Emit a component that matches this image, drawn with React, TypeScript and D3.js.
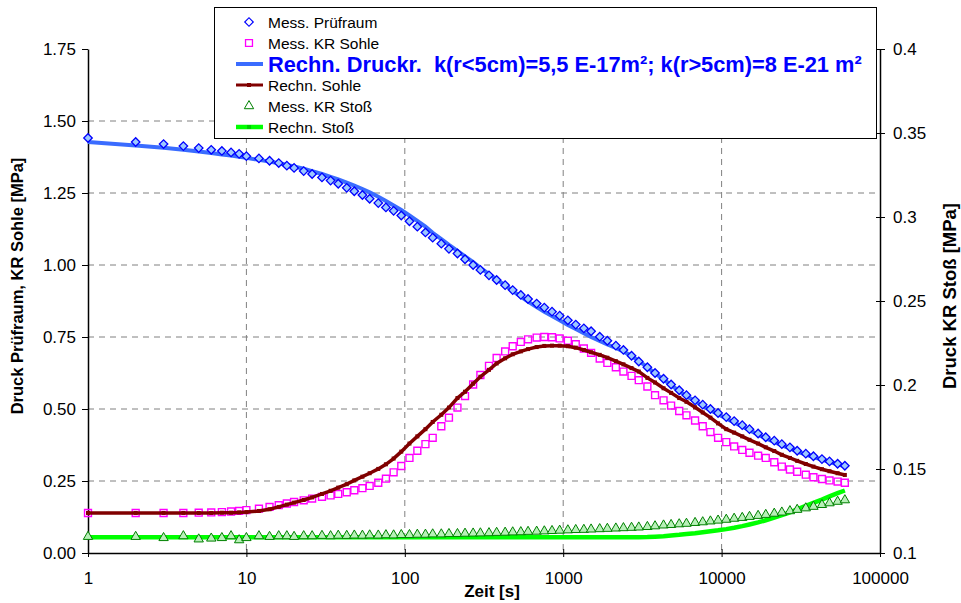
import { useRef, useEffect } from 'react';
import * as d3 from 'd3';

// sample times [s], shared by all series
const times = [
  1, 2, 3, 4, 5, 6, 7, 8, 9, 10,
  12, 14, 16, 18, 20,
  23, 26, 30, 34, 38,
  43, 48, 54, 60, 68,
  76, 85, 95, 107, 120,
  135, 150, 170, 190, 215,
  240, 270, 300, 340, 380,
  430, 480, 540, 600, 680,
  760, 850, 950, 1070, 1200,
  1350, 1500, 1700, 1900, 2150,
  2400, 2700, 3000, 3400, 3800,
  4300, 4800, 5400, 6000, 6800,
  7600, 8500, 9500, 10700, 12000,
  13500, 15000, 17000, 19000, 21500,
  24000, 27000, 30000, 34000, 38000,
  43000, 48000, 54000, 60000,
];

const messPruefraum = [
  1.441, 1.427, 1.420, 1.413, 1.406, 1.400, 1.396, 1.391, 1.386, 1.378,
  1.370, 1.362, 1.354, 1.345, 1.337,
  1.326, 1.316, 1.304, 1.293, 1.282,
  1.268, 1.256, 1.243, 1.230, 1.215,
  1.200, 1.188, 1.172, 1.152, 1.133,
  1.113, 1.095, 1.074, 1.056, 1.040,
  1.020, 1.000, 0.983, 0.964, 0.948,
  0.930, 0.913, 0.896, 0.882, 0.866,
  0.852, 0.838, 0.824, 0.808, 0.793,
  0.780, 0.770, 0.751, 0.737, 0.720,
  0.705, 0.685, 0.665, 0.645, 0.625,
  0.605, 0.585, 0.565, 0.548, 0.530,
  0.515, 0.500, 0.486, 0.472, 0.458,
  0.444, 0.430, 0.415, 0.402, 0.390,
  0.378, 0.367, 0.355, 0.345, 0.336,
  0.326, 0.318, 0.310, 0.303,
];

const messKRSohle = [
  0.139, 0.139, 0.139, 0.139, 0.140, 0.141, 0.142, 0.144, 0.146, 0.149,
  0.154, 0.160, 0.166, 0.172, 0.177,
  0.183, 0.189, 0.195, 0.200, 0.205,
  0.211, 0.218, 0.225, 0.233, 0.244,
  0.258, 0.280, 0.302, 0.330, 0.355,
  0.378, 0.400, 0.440, 0.470, 0.505,
  0.545, 0.585, 0.618, 0.650, 0.677,
  0.700, 0.718, 0.733, 0.742, 0.748,
  0.750, 0.749, 0.745, 0.737, 0.725,
  0.710, 0.695, 0.675, 0.660, 0.645,
  0.630, 0.615, 0.600, 0.578, 0.548,
  0.530, 0.512, 0.493, 0.478, 0.460,
  0.440, 0.420, 0.400, 0.385, 0.370,
  0.358, 0.348, 0.338, 0.330, 0.315,
  0.300, 0.290, 0.282, 0.272, 0.263,
  0.257, 0.252, 0.248, 0.244,
];

const rechnDruckr = [
  1.427, 1.415, 1.407, 1.400, 1.394, 1.389, 1.384, 1.380, 1.376, 1.372,
  1.365, 1.359, 1.353, 1.347, 1.342,
  1.334, 1.326, 1.316, 1.306, 1.297,
  1.286, 1.276, 1.264, 1.252, 1.237,
  1.222, 1.207, 1.191, 1.172, 1.153,
  1.133, 1.112, 1.090, 1.070, 1.049,
  1.030, 1.010, 0.990, 0.968, 0.950,
  0.929, 0.910, 0.890, 0.873, 0.854,
  0.838, 0.823, 0.808, 0.792, 0.778,
  0.763, 0.750, 0.736, 0.724, 0.712,
  0.700, 0.684, 0.667, 0.645, 0.624,
  0.603, 0.583, 0.562, 0.545, 0.527,
  0.511, 0.496, 0.482, 0.467, 0.453,
  0.439, 0.426, 0.411, 0.398, 0.386,
  0.374, 0.363, 0.352, 0.342, 0.333,
  0.324, 0.316, 0.308, 0.301,
];

const rechnSohle = [
  0.139, 0.139, 0.139, 0.139, 0.139, 0.139, 0.140, 0.140, 0.141, 0.142,
  0.146, 0.152, 0.160, 0.168, 0.175,
  0.184, 0.193, 0.205, 0.216, 0.227,
  0.239, 0.252, 0.265, 0.277, 0.292,
  0.308, 0.328, 0.352, 0.380, 0.405,
  0.430, 0.455, 0.480, 0.505, 0.538,
  0.560, 0.588, 0.612, 0.636, 0.658,
  0.676, 0.690, 0.700, 0.708, 0.715,
  0.719, 0.720, 0.720, 0.718, 0.713,
  0.705, 0.697, 0.688, 0.678, 0.666,
  0.655, 0.642, 0.630, 0.608, 0.592,
  0.572, 0.556, 0.538, 0.525, 0.506,
  0.488, 0.470, 0.450, 0.430, 0.418,
  0.405, 0.393, 0.380, 0.367, 0.354,
  0.341, 0.330, 0.320, 0.309, 0.300,
  0.291, 0.284, 0.277, 0.271,
];

// right axis series
const messKRStoss = [
  0.1097, 0.1097, 0.1090, 0.1101, 0.1082, 0.1087, 0.1090, 0.1101, 0.1077, 0.1090,
  0.1101, 0.1097, 0.1101, 0.1101, 0.1097,
  0.1101, 0.1101, 0.1103, 0.1101, 0.1104,
  0.1103, 0.1105, 0.1104, 0.1106, 0.1105,
  0.1107, 0.1106, 0.1108, 0.1108, 0.1110,
  0.1110, 0.1112, 0.1112, 0.1114, 0.1114,
  0.1116, 0.1117, 0.1118, 0.1119, 0.1121,
  0.1122, 0.1124, 0.1125, 0.1127, 0.1128,
  0.1130, 0.1132, 0.1134, 0.1136, 0.1138,
  0.1139, 0.1141, 0.1143, 0.1145, 0.1147,
  0.1149, 0.1151, 0.1153, 0.1156, 0.1160,
  0.1165, 0.1168, 0.1172, 0.1175, 0.1180,
  0.1184, 0.1189, 0.1194, 0.1199, 0.1205,
  0.1210, 0.1216, 0.1222, 0.1228, 0.1235,
  0.1242, 0.1250, 0.1258, 0.1267, 0.1276,
  0.1287, 0.1297, 0.1306, 0.1315,
];

const rechnStoss = [
  0.1094, 0.1094, 0.1094, 0.1094, 0.1094, 0.1094, 0.1094, 0.1094, 0.1094, 0.1094,
  0.1094, 0.1094, 0.1094, 0.1094, 0.1094,
  0.1094, 0.1094, 0.1094, 0.1094, 0.1094,
  0.1094, 0.1094, 0.1094, 0.1094, 0.1094,
  0.1094, 0.1094, 0.1094, 0.1094, 0.1094,
  0.1094, 0.1094, 0.1094, 0.1094, 0.1094,
  0.1094, 0.1094, 0.1094, 0.1094, 0.1094,
  0.1094, 0.1094, 0.1094, 0.1094, 0.1094,
  0.1094, 0.1094, 0.1094, 0.1094, 0.1094,
  0.1094, 0.1094, 0.1094, 0.1094, 0.1094,
  0.1094, 0.1094, 0.1094, 0.1095, 0.1097,
  0.1100, 0.1104, 0.1108, 0.1113, 0.1118,
  0.1124, 0.1130, 0.1135, 0.1142, 0.1150,
  0.1160, 0.1170, 0.1182, 0.1195, 0.1210,
  0.1225, 0.1242, 0.1260, 0.1280, 0.1298,
  0.1318, 0.1337, 0.1356, 0.1372,
];

const timeTicks = [1, 10, 100, 1000, 10000, 100000];
const leftTicks = [0, 0.25, 0.5, 0.75, 1, 1.25, 1.5, 1.75];
const rightTicks = [0.1, 0.15, 0.2, 0.25, 0.3, 0.35, 0.4];

const legendLabels = [
  'Mess. Prüfraum',
  'Mess. KR Sohle',
  'Rechn. Druckr.  k(r<5cm)=5,5 E-17m²; k(r>5cm)=8 E-21 m²',
  'Rechn. Sohle',
  'Mess. KR Stoß',
  'Rechn. Stoß',
];

export default function App() {
  const svgRef = useRef<SVGSVGElement>(null);

  useEffect(() => {
    const w = 961;
    const h = 603;
    const left = 88, right = 880, top = 49, bottom = 553;
    const font = 'Arial, "Liberation Sans", sans-serif';

    const svg = d3.select(svgRef.current)
      .attr('width', w)
      .attr('height', h)
      .style('background', '#fff');
    svg.selectAll('*').remove();

    const x = d3.scaleLog().domain([1, 100000]).range([left, right]);
    const yL = d3.scaleLinear().domain([0, 1.75]).range([bottom, top]);
    const yR = d3.scaleLinear().domain([0.1, 0.4]).range([bottom, top]);

    // dashed grid
    const grid = svg.append('g')
      .attr('stroke', '#808080')
      .attr('stroke-width', 1)
      .attr('stroke-dasharray', '6,5');
    grid.selectAll('.hg')
      .data(leftTicks.slice(1, -1))
      .join('line')
      .attr('x1', left).attr('x2', right)
      .attr('y1', d => yL(d)).attr('y2', d => yL(d));
    grid.selectAll('.vg')
      .data(timeTicks.slice(1, -1))
      .join('line')
      .attr('x1', d => x(d)).attr('x2', d => x(d))
      .attr('y1', top).attr('y2', bottom);

    // axes
    const styleAxis = (g) => {
      g.select('.domain').attr('stroke', '#000').attr('stroke-width', 1.5);
      g.selectAll('.tick line').attr('stroke', '#000').attr('stroke-width', 1);
      g.selectAll('.tick text')
        .attr('fill', '#000')
        .style('font-family', font)
        .style('font-size', '17px');
    };

    svg.append('g')
      .attr('transform', `translate(${left},0)`)
      .call(d3.axisLeft(yL).tickValues(leftTicks).tickFormat(d3.format('.2f')).tickSize(6).tickSizeOuter(0).tickPadding(6))
      .call(styleAxis);

    svg.append('g')
      .attr('transform', `translate(${right},0)`)
      .call(d3.axisRight(yR).tickValues(rightTicks).tickFormat(d3.format('~g')).tickSize(5).tickSizeOuter(0).tickPadding(8))
      .call(styleAxis)
      .call(g => g.selectAll('.tick line').attr('x1', -4));

    svg.append('g')
      .attr('transform', `translate(0,${bottom})`)
      .call(d3.axisBottom(x).tickValues(timeTicks).tickFormat(d3.format('d')).tickSize(4).tickSizeOuter(0).tickPadding(15))
      .call(styleAxis)
      .call(g => g.selectAll('.tick line').attr('y1', -4));

    // axis titles
    svg.append('text')
      .attr('transform', 'translate(23,286) rotate(-90)')
      .attr('text-anchor', 'middle')
      .style('font-family', font).style('font-size', '16.5px').style('font-weight', 'bold')
      .text('Druck Prüfraum, KR Sohle [MPa]');
    svg.append('text')
      .attr('transform', 'translate(956,296) rotate(-90)')
      .attr('text-anchor', 'middle')
      .style('font-family', font).style('font-size', '18.5px').style('font-weight', 'bold')
      .text('Druck KR Stoß [MPa]');
    svg.append('text')
      .attr('x', 492).attr('y', 597)
      .attr('text-anchor', 'middle')
      .style('font-family', font).style('font-size', '17px').style('font-weight', 'bold')
      .text('Zeit [s]');

    const lineL = d3.line<number>().x((d, i) => x(times[i])).y(d => yL(d));
    const lineR = d3.line<number>().x((d, i) => x(times[i])).y(d => yR(d));

    const diamond = d3.symbol().type(d3.symbolSquare).size(36)();
    const square = d3.symbol().type(d3.symbolSquare).size(48)();
    const smallSquare = d3.symbol().type(d3.symbolSquare).size(16)();
    const triangle = d3.symbol().type(d3.symbolTriangle).size(38)();

    const plot = svg.append('g');

    // Rechn. Druckr.
    plot.append('path')
      .datum(rechnDruckr)
      .attr('d', lineL)
      .attr('fill', 'none').attr('stroke', '#3a6cff').attr('stroke-width', 4);

    // Mess. KR Sohle
    plot.selectAll('.sq')
      .data(messKRSohle)
      .join('path')
      .attr('d', square)
      .attr('transform', (d, i) => `translate(${x(times[i])},${yL(d)})`)
      .attr('fill', 'none').attr('stroke', '#ff00ff').attr('stroke-width', 1.4);

    // Rechn. Sohle
    plot.append('path')
      .datum(rechnSohle)
      .attr('d', lineL)
      .attr('fill', 'none').attr('stroke', '#800000').attr('stroke-width', 3.5);
    plot.selectAll('.rs')
      .data(rechnSohle)
      .join('path')
      .attr('d', smallSquare)
      .attr('transform', (d, i) => `translate(${x(times[i])},${yL(d)})`)
      .attr('fill', '#800000');

    // Mess. Prüfraum
    plot.selectAll('.dm')
      .data(messPruefraum)
      .join('path')
      .attr('d', diamond)
      .attr('transform', (d, i) => `translate(${x(times[i])},${yL(d)}) rotate(45)`)
      .attr('fill', '#9cc8ff').attr('stroke', '#0000ff').attr('stroke-width', 1.3);

    // Rechn. Stoß
    plot.append('path')
      .datum(rechnStoss)
      .attr('d', lineR)
      .attr('fill', 'none').attr('stroke', '#00ff00').attr('stroke-width', 4.5);

    // Mess. KR Stoß
    plot.selectAll('.tr')
      .data(messKRStoss)
      .join('path')
      .attr('d', triangle)
      .attr('transform', (d, i) => `translate(${x(times[i])},${yR(d)})`)
      .attr('fill', '#b8f0b8').attr('stroke', '#008000').attr('stroke-width', 1);

    // legend
    const lg = svg.append('g');
    lg.append('rect')
      .attr('x', 214.5).attr('y', 7.5).attr('width', 662).attr('height', 131)
      .attr('fill', '#fff').attr('stroke', '#000').attr('stroke-width', 1);
    const rowY = [22, 43, 64, 85, 106, 127];
    const lx1 = 236, lx2 = 263, mx = 249, tx = 268;
    lg.append('path').attr('d', diamond).attr('transform', `translate(${mx},${rowY[0]}) rotate(45)`)
      .attr('fill', '#fff').attr('stroke', '#0000ff').attr('stroke-width', 1.2);
    lg.append('path').attr('d', square).attr('transform', `translate(${mx},${rowY[1]})`)
      .attr('fill', '#fff').attr('stroke', '#ff00ff').attr('stroke-width', 1.3);
    lg.append('line').attr('x1', lx1).attr('x2', lx2).attr('y1', rowY[2]).attr('y2', rowY[2])
      .attr('stroke', '#3a6cff').attr('stroke-width', 4);
    lg.append('line').attr('x1', lx1).attr('x2', lx2).attr('y1', rowY[3]).attr('y2', rowY[3])
      .attr('stroke', '#800000').attr('stroke-width', 3);
    lg.append('path').attr('d', smallSquare).attr('transform', `translate(${mx},${rowY[3]})`).attr('fill', '#800000');
    lg.append('path').attr('d', triangle).attr('transform', `translate(${mx},${rowY[4]})`)
      .attr('fill', '#fff').attr('stroke', '#008000').attr('stroke-width', 1);
    lg.append('line').attr('x1', lx1).attr('x2', lx2).attr('y1', rowY[5]).attr('y2', rowY[5])
      .attr('stroke', '#00ff00').attr('stroke-width', 4.5);
    lg.append('path').attr('d', smallSquare).attr('transform', `translate(${mx},${rowY[5]})`).attr('fill', '#00cc00');

    lg.selectAll('.lt')
      .data(legendLabels)
      .join('text')
      .attr('x', tx)
      .attr('y', (d, i) => rowY[i])
      .attr('dy', '0.36em')
      .style('font-family', font)
      .style('font-size', (d, i) => (i === 2 ? '21.8px' : '15.5px'))
      .style('font-weight', (d, i) => (i === 2 ? 'bold' : 'normal'))
      .attr('fill', (d, i) => (i === 2 ? '#0000ff' : '#000'))
      .style('white-space', 'pre')
      .text(d => d);
  }, []);

  return <svg ref={svgRef} style={{ position: 'absolute', left: 0, top: 0 }}></svg>;
}
